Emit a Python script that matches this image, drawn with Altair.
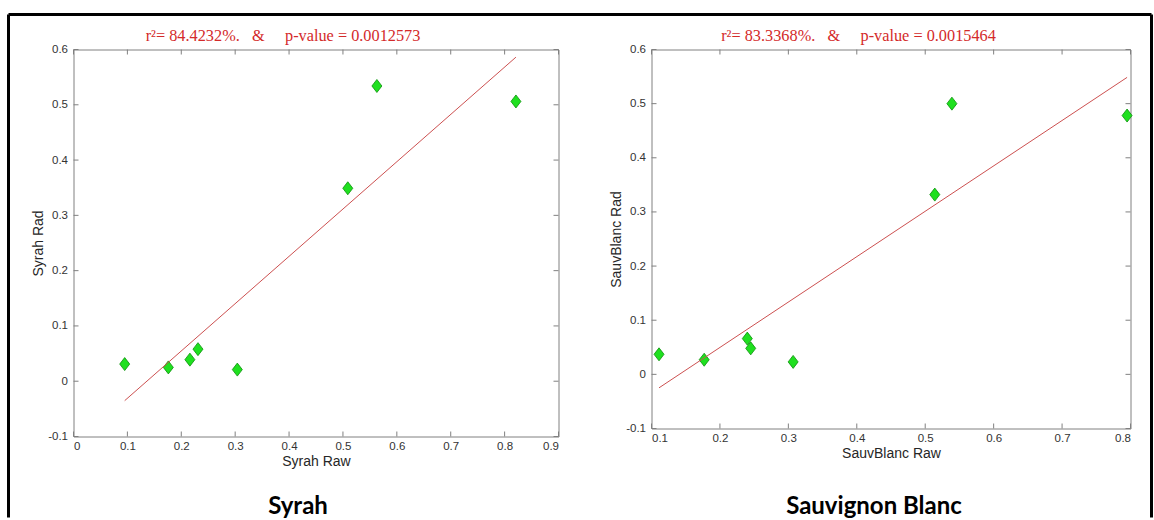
import altair as alt
import pandas as pd

# Measured values for each grape variety
syrah_raw = [0.095, 0.176, 0.216, 0.231, 0.304, 0.509, 0.563, 0.821]
syrah_rad = [0.031, 0.025, 0.039, 0.058, 0.021, 0.349, 0.534, 0.506]
sauv_raw = [0.111, 0.177, 0.240, 0.245, 0.307, 0.514, 0.539, 0.795]
sauv_rad = [0.037, 0.027, 0.066, 0.048, 0.023, 0.332, 0.500, 0.478]

# Axis tick values
syrah_x_ticks = [0, 0.1, 0.2, 0.3, 0.4, 0.5, 0.6, 0.7, 0.8, 0.9]
sauv_x_ticks = [0.1, 0.2, 0.3, 0.4, 0.5, 0.6, 0.7, 0.8]
y_ticks = [-0.1, 0, 0.1, 0.2, 0.3, 0.4, 0.5, 0.6]

NB = "\u00a0"
syrah_stats = f"r²= 84.4232%.{NB*3}&{NB*5}p-value = 0.0012573"
sauv_stats = f"r²= 83.3368%.{NB*3}&{NB*5}p-value = 0.0015464"

AXIS_GRAY = "#808080"
STAT_RED = "#d42a2a"
DIAMOND = "M0,-1L0.77,0L0,1L-0.77,0Z"


def one_row(**kw):
    return alt.Data(values=[kw])


def panel(raw, rad, xticks, xdomain, xtitle, ytitle, stats, name,
          w, h, stats_x, name_x, border=False):
    df = pd.DataFrame({"raw": raw, "rad": rad})
    xscale = alt.Scale(domain=xdomain, nice=False, zero=False)
    yscale = alt.Scale(domain=[-0.1, 0.6], nice=False, zero=False)
    xaxis = alt.Axis(values=xticks, title=xtitle, labelExpr="toString(datum.value)",
                     labelPadding=4)
    yaxis = alt.Axis(values=y_ticks, title=ytitle, labelExpr="toString(datum.value)",
                     labelPadding=6)

    x_main = alt.X("raw:Q", scale=xscale, axis=xaxis)
    y_main = alt.Y("rad:Q", scale=yscale, axis=yaxis)

    points = alt.Chart(df).mark_point(
        shape=DIAMOND, size=169, filled=True, fill="#1fe01f",
        stroke="#0b8f0b", strokeWidth=0.8, opacity=1,
    ).encode(x=x_main, y=y_main)

    fit = alt.Chart(df).transform_regression("raw", "rad").mark_line(
        color="#cc5050", strokeWidth=1
    ).encode(x=x_main, y=y_main)

    xt = alt.Chart(pd.DataFrame({"raw": xticks}))
    yt = alt.Chart(pd.DataFrame({"rad": y_ticks}))
    tick_len = 5
    ticks = [
        xt.mark_rule(color=AXIS_GRAY).encode(x=x_main, y=alt.value(h), y2=alt.value(h - tick_len)),
        xt.mark_rule(color=AXIS_GRAY).encode(x=x_main, y=alt.value(0), y2=alt.value(tick_len)),
        yt.mark_rule(color=AXIS_GRAY).encode(y=y_main, x=alt.value(0), x2=alt.value(tick_len)),
        yt.mark_rule(color=AXIS_GRAY).encode(y=y_main, x=alt.value(w), x2=alt.value(w - tick_len)),
    ]

    stat_text = alt.Chart(one_row(s=stats)).mark_text(
        font="Liberation Serif", fontSize=16.3, color=STAT_RED,
        align="center", baseline="alphabetic",
    ).encode(text="s:N", x=alt.value(stats_x), y=alt.value(-9))

    name_text = alt.Chart(one_row(s=name)).mark_text(
        font="Lato", fontSize=24, fontWeight="bold", color="#000000",
        align="center", baseline="alphabetic",
    ).encode(text="s:N", x=alt.value(name_x), y=alt.value(464))

    layers = [points, fit] + ticks + [stat_text, name_text]

    if border:
        # outer frame around both panels (left, top, right edges)
        left_edge, right_edge, top_edge, bottom_edge = -65, 1078, -35, 468
        frame = alt.Chart(one_row(a=1))
        layers += [
            frame.mark_rule(color="black", strokeWidth=3).encode(
                x=alt.value(left_edge), x2=alt.value(right_edge),
                y=alt.value(top_edge)),
            frame.mark_rule(color="black", strokeWidth=3).encode(
                x=alt.value(left_edge), y=alt.value(top_edge), y2=alt.value(bottom_edge)),
            frame.mark_rule(color="black", strokeWidth=3).encode(
                x=alt.value(right_edge), y=alt.value(top_edge), y2=alt.value(bottom_edge)),
        ]

    return alt.layer(*layers).properties(width=w, height=h)


left = panel(syrah_raw, syrah_rad, syrah_x_ticks, [0, 0.9], "Syrah Raw", "Syrah Rad",
             syrah_stats, "Syrah", 485, 387, 209.5, 224.5, border=True)
right = panel(sauv_raw, sauv_rad, sauv_x_ticks, [0.1, 0.8], "SauvBlanc Raw", "SauvBlanc Rad",
              sauv_stats, "Sauvignon Blanc", 479, 379, 207, 222.5)

chart = alt.hconcat(left, right, spacing=93, bounds="flush").properties(
    padding={"left": 6.5, "top": 12.5, "right": 0, "bottom": 0},
    background="white",
).configure_view(
    stroke=AXIS_GRAY, strokeWidth=1,
).configure_axis(
    domain=False, ticks=False, tickSize=0, grid=False,
    labelFont="Liberation Sans", labelFontSize=11.5, labelColor="#333333",
    titleFont="Liberation Sans", titleFontSize=14, titleFontWeight="normal",
    titleColor="#262626", titlePadding=2,
)

chart.save("out.html", embed_options={"renderer": "svg", "actions": False})
